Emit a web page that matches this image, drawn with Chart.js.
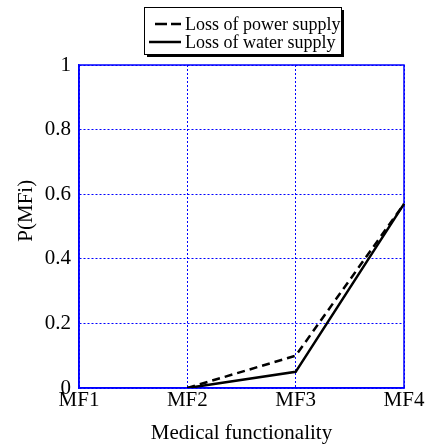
<!DOCTYPE html>
<html>
<head>
<meta charset="utf-8">
<script src="https://cdn.jsdelivr.net/npm/chart.js@4"></script>
<style>
  html, body { margin: 0; padding: 0; background: #fff; }
  #wrap { width: 428px; height: 448px; }
</style>
</head>
<body>
<div id="wrap"><canvas id="chart" width="428" height="448"></canvas></div>
<script>
// categories and series
const categories = ['MF1', 'MF2', 'MF3', 'MF4'];
const powerLoss = [null, 0, 0.1, 0.57];
const waterLoss = [null, 0, 0.05, 0.57];
const seriesNames = ['Loss of power supply', 'Loss of water supply'];
const yTickLabels = ['0', '0.2', '0.4', '0.6', '0.8', '1'];

const FONT = '"Liberation Serif", "Times New Roman", serif';
const BLUE = '#0000ff';

// legend box with a drop shadow, top centre
const boxLegend = {
    id: 'boxLegend',
    afterDraw(chart) {
        const ctx = chart.ctx;
        const x = 144, y = 7, w = 197, h = 47;
        ctx.save();
        ctx.fillStyle = '#000';
        ctx.fillRect(x + 3, y + 3, w, h);
        ctx.fillStyle = '#fff';
        ctx.fillRect(x, y, w, h);
        ctx.strokeStyle = '#000';
        ctx.lineWidth = 1;
        ctx.strokeRect(x + 0.5, y + 0.5, w, h);
        ctx.font = '18px ' + FONT;
        ctx.textBaseline = 'middle';
        ctx.fillStyle = '#000';
        chart.data.datasets.forEach((ds, i) => {
            const ly = y + 17 + i * 18;
            ctx.beginPath();
            // legend sample uses longer dashes than the plotted line
            ctx.setLineDash(ds.borderDash ? [12, 4] : []);
            ctx.lineWidth = 2.5;
            ctx.strokeStyle = ds.borderColor;
            ctx.moveTo(ds.borderDash ? 155 : 149, ly);
            ctx.lineTo(181, ly);
            ctx.stroke();
            ctx.setLineDash([]);
            ctx.fillText(ds.label, 185, ly + 1);
        });
        ctx.restore();
    }
};

// solid blue frame round the plot area
const plotFrame = {
    id: 'plotFrame',
    beforeDatasetsDraw(chart) {
        const a = chart.chartArea;
        const ctx = chart.ctx;
        ctx.save();
        ctx.strokeStyle = BLUE;
        ctx.lineWidth = 1.5;
        ctx.strokeRect(a.left, a.top, a.right - a.left, a.bottom - a.top);
        ctx.restore();
    }
};

new Chart(document.getElementById('chart'), {
    type: 'line',
    data: {
        labels: categories,
        datasets: [
            {
                label: seriesNames[0],
                data: powerLoss,
                borderColor: '#000',
                borderWidth: 2.5,
                borderDash: [8, 5],
                pointRadius: 0,
                fill: false,
                tension: 0
            },
            {
                label: seriesNames[1],
                data: waterLoss,
                borderColor: '#000',
                borderWidth: 2.5,
                pointRadius: 0,
                fill: false,
                tension: 0
            }
        ]
    },
    options: {
        responsive: false,
        animation: false,
        layout: { padding: { left: 0, top: 65, right: 24, bottom: 0 } },
        plugins: {
            legend: { display: false },
            tooltip: { enabled: false }
        },
        scales: {
            x: {
                type: 'category',
                offset: false,
                afterFit: function(scale) { scale.height = 60; },
                grid: {
                    color: BLUE,
                    lineWidth: 1,
                    drawTicks: false
                },
                border: { color: BLUE, width: 1.5, dash: [2, 2] },
                ticks: {
                    color: '#000',
                    padding: 0,
                    maxRotation: 0,
                    font: { family: FONT, size: 21 }
                },
                title: {
                    display: true,
                    text: 'Medical functionality',
                    color: '#000',
                    padding: { top: 0, bottom: 2 },
                    font: { family: FONT, size: 21, lineHeight: 1.2 }
                }
            },
            y: {
                min: 0,
                max: 1,
                afterFit: function(scale) { scale.width = 79; },
                grid: {
                    color: BLUE,
                    lineWidth: 1,
                    drawTicks: false
                },
                border: { color: BLUE, width: 1.5, dash: [2, 2] },
                ticks: {
                    stepSize: 0.2,
                    color: '#000',
                    padding: 8,
                    font: { family: FONT, size: 21 },
                    callback: function(value, index) { return yTickLabels[index]; }
                },
                title: {
                    display: true,
                    // leading spaces nudge the rotated title up a little
                    text: '      P(MFi)',
                    color: '#000',
                    padding: { top: 14, bottom: 0 },
                    font: { family: FONT, size: 21, lineHeight: 1.2 }
                }
            }
        }
    },
    plugins: [plotFrame, boxLegend]
});
</script>
</body>
</html>
